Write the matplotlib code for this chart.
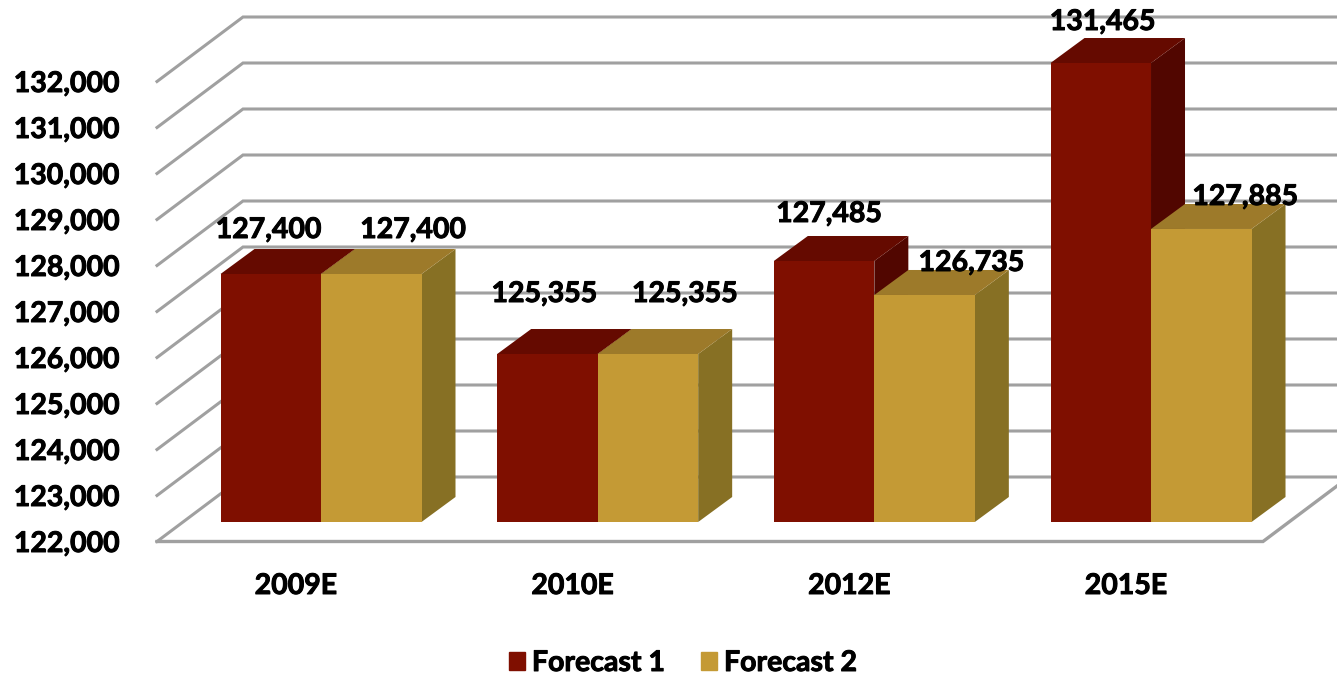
import numpy as np
import matplotlib
matplotlib.use('Agg')
import matplotlib.pyplot as plt
import matplotlib.patheffects as pe
from matplotlib.patches import Patch

# values
years = ['2009E', '2010E', '2012E', '2015E']
series_names = ['Forecast 1', 'Forecast 2']
heights_1 = [127391, 125652, 127674, 131978]
heights_2 = [127391, 125652, 126935, 128370]
labels_1 = ['127,400', '125,355', '127,485', '131,465']
labels_2 = ['127,400', '125,355', '126,735', '127,885']
y_ticks = [122000, 123000, 124000, 125000, 126000, 127000, 128000, 129000, 130000, 131000, 132000]

# label nudges in pixels from bar top / centre, they were placed by hand in the original
nudge_1 = [(-2, 44), (-3, 60), (5, 47), (2, 41)]
nudge_2 = [(42, 44), (37, 60), (47, 32), (44, 32)]

red = ['#7F0F00', '#650A00', '#510600']
gold = ['#C49A35', '#9D7A2A', '#877024']
grid_col = '#A0A0A0'
font = 'Lato'

W, H = 1337, 674
unit_x = 276.67     # px per category
unit_y = 0.046      # px per value

fig = plt.figure(figsize=(W / 100, H / 100), dpi=100)
ax = fig.add_axes([0, 0, 1, 1])
ax.set_xlim(-321 / unit_x, (W - 321) / unit_x)
ax.set_ylim(122000 - (H - 541.5) / unit_y, 122000 + 541.5 / unit_y)
ax.axis('off')

bar_w = 100.5 / unit_x
wall_dx, wall_dy = 86 / unit_x, 64.5 / unit_y
plane_dy = 19.5 / unit_y
depth_dx, depth_dy = 34 / unit_x, 25 / unit_y

left = -164 / unit_x
right = (1263 - 321) / unit_x

# walls
for v in y_ticks:
    ax.plot([left, left + wall_dx, ax.get_xlim()[1]], [v, v + wall_dy, v + wall_dy],
            color=grid_col, lw=2.2, zorder=1, solid_joinstyle='miter')
ax.plot([left, right, right + wall_dx], [122000, 122000, 122000 + wall_dy],
        color=grid_col, lw=2.4, zorder=1, solid_joinstyle='miter')


def draw_bar(x0, top, cols, z):
    base = 122000 + plane_dy
    t = top + plane_dy
    x1 = x0 + bar_w
    ax.fill([x1, x1 + depth_dx, x1 + depth_dx, x1], [base, base + depth_dy, t + depth_dy, t],
            color=cols[2], lw=0, zorder=z)
    ax.fill([x0, x1, x1 + depth_dx, x0 + depth_dx], [t, t, t + depth_dy, t + depth_dy],
            color=cols[1], lw=0, zorder=z)
    ax.fill([x0, x1, x1, x0], [base, base, t, t], color=cols[0], lw=0, zorder=z)


for i in range(len(years)):
    draw_bar(i - bar_w, heights_1[i], red, 2)
    draw_bar(i, heights_2[i], gold, 3)

# Lato bold is a bit thinner than the original face, so thicken it
fat = [pe.withStroke(linewidth=0.7, foreground='black')]
txt = dict(family=font, fontweight='bold', fontsize=20.5, color='black', path_effects=fat)

for i in range(len(years)):
    ax.annotate(labels_1[i], xy=(i - bar_w / 2, heights_1[i] + plane_dy), xytext=nudge_1[i],
                textcoords='offset pixels', ha='center', va='center', zorder=5, **txt)
    ax.annotate(labels_2[i], xy=(i + bar_w / 2, heights_2[i] + plane_dy), xytext=nudge_2[i],
                textcoords='offset pixels', ha='center', va='center', zorder=5, **txt)
    ax.text(i - 25 / unit_x, 122000 - 44.5 / unit_y, years[i], ha='center', va='center', **txt)

for v in y_ticks:
    ax.text(-201 / unit_x, v - 2.5 / unit_y, format(v, ','), ha='right', va='center', **txt)

handles = [Patch(color=red[0], label=series_names[0]), Patch(color=gold[0], label=series_names[1])]
leg = ax.legend(handles=handles, ncol=2, loc='center', bbox_to_anchor=(683 / W, (H - 663) / H), frameon=False,
                handlelength=0.56, handleheight=0.56, handletextpad=0.25, columnspacing=1.26, borderpad=0,
                prop=dict(family=font, weight='bold', size=20.5))
for t in leg.get_texts():
    t.set_path_effects(fat)

fig.savefig('out.png', dpi=100)
